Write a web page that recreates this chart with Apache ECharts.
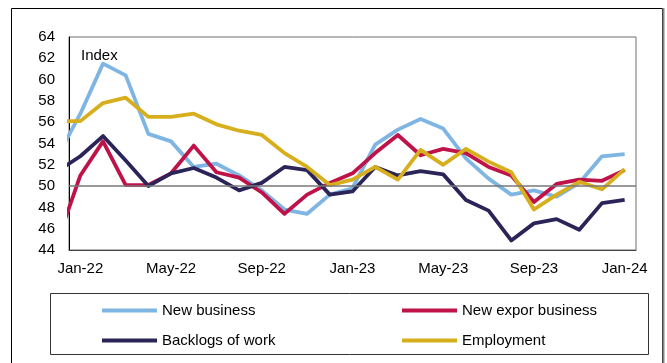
<!DOCTYPE html>
<html>
<head>
<meta charset="utf-8">
<script src="https://cdn.jsdelivr.net/npm/echarts@6/dist/echarts.min.js"></script>
<style>html,body{margin:0;padding:0;background:#fff}#c{width:667px;height:363px}</style>
</head>
<body>
<div id="c"></div>
<script>
// Months (first one, Dec-21, sits just left of the plot and is clipped)
const months = ['Dec-21','Jan-22','Feb-22','Mar-22','Apr-22','May-22','Jun-22','Jul-22','Aug-22','Sep-22','Oct-22','Nov-22','Dec-22','Jan-23','Feb-23','Mar-23','Apr-23','May-23','Jun-23','Jul-23','Aug-23','Sep-23','Oct-23','Nov-23','Dec-23','Jan-24'];
const xTickLabels = ['Jan-22','May-22','Sep-22','Jan-23','May-23','Sep-23','Jan-24'];
const yTicks = [44,46,48,50,52,54,56,58,60,62,64];

const newBusiness = [52.8, 56.8,61.5,60.4,54.9,54.2,51.8,52.1,51.0,49.6,47.8,47.4,49.2,49.8,53.9,55.3,56.3,55.4,52.6,50.7,49.2,49.6,49.0,50.3,52.8,53.0];
const newExport   = [44.9, 51.0,54.2,50.1,50.1,51.2,53.8,51.3,50.8,49.4,47.4,49.2,50.3,51.2,53.1,54.8,52.9,53.5,53.1,51.8,51.0,48.5,50.2,50.6,50.5,51.5];
const backlogs    = [51.4, 52.8,54.7,52.4,50.0,51.2,51.7,50.8,49.6,50.3,51.8,51.5,49.2,49.5,51.8,51.0,51.4,51.1,48.7,47.7,44.9,46.5,46.9,45.9,48.4,48.7];
const employment  = [56.1, 56.1,57.8,58.3,56.5,56.5,56.8,55.8,55.2,54.8,53.1,51.8,50.1,50.6,51.8,50.6,53.4,52.0,53.5,52.3,51.3,47.8,49.2,50.4,49.7,51.6];

const seriesNames = ['New business','New expor business','Backlogs of work','Employment'];
const colors = ['#7fb5e3','#bf1248','#2b2458','#d7ae1c'];

// x index: Jan-22 = 0, so Dec-21 = -1
const toXY = arr => arr.map((v,i) => [i-1, v]);
const labelIdx = xTickLabels.map(l => months.indexOf(l) - 1);

const chart = echarts.init(document.getElementById('c'));
const font = 'Liberation Sans, Arial, sans-serif';

const mkSeries = (name, data, color, extra) => Object.assign({
  name, type: 'line', data: toXY(data), symbol: 'none', clip: true,
  lineStyle: { color, width: 3.8, join: 'round' }, itemStyle: { color },
  emphasis: { disabled: true }
}, extra || {});

const legendCommon = {
  orient: 'vertical', top: 303, padding: 0,
  icon: 'rect', itemWidth: 55, itemHeight: 4, itemGap: 15,
  textStyle: { fontSize: 15, fontFamily: font, color: '#000', lineHeight: 15 }
};

chart.setOption({
  animation: false,
  grid: { left: 69, right: 31, top: 37, bottom: 113, show: true, borderColor: '#6e6e6e', borderWidth: 1 },
  xAxis: {
    type: 'value', min: -0.5, max: 24.5,
    axisLine: { show: true, onZero: false, lineStyle: { color: '#444', width: 1 } },
    axisTick: { show: false },
    splitLine: { show: false },
    axisLabel: {
      customValues: labelIdx, color: '#000', fontSize: 15, fontFamily: font, margin: 11,
      formatter: v => months[Math.round(v) + 1]
    }
  },
  yAxis: {
    type: 'value', min: yTicks[0], max: yTicks[yTicks.length-1], interval: 2,
    axisLine: { show: true, onZero: false, lineStyle: { color: '#000', width: 1 } },
    axisTick: { show: false },
    splitLine: { show: false },
    axisLabel: { color: '#000', fontSize: 15, fontFamily: font, margin: 14 }
  },
  legend: [
    Object.assign({ data: [seriesNames[0], seriesNames[2]], left: 102 }, legendCommon),
    Object.assign({ data: [seriesNames[1], seriesNames[3]], left: 402 }, legendCommon)
  ],
  graphic: [
    { type: 'rect', shape: { x: 11.5, y: 8.5, width: 651, height: 370 }, style: { fill: 'none', stroke: '#000', lineWidth: 1 }, silent: true, z: -10 },
    { type: 'line', shape: { x1: 663.5, y1: 8, x2: 663.5, y2: 363 }, style: { stroke: '#888', lineWidth: 2 }, silent: true },
    { type: 'rect', shape: { x: 50.5, y: 293.5, width: 598, height: 61 }, style: { fill: 'none', stroke: '#333', lineWidth: 1 }, silent: true },
    { type: 'text', left: 81, top: 48, style: { text: 'Index', fontSize: 15, fontFamily: font, fill: '#000' }, silent: true }
  ],
  series: [
    mkSeries(seriesNames[0], newBusiness, colors[0], {
      markLine: { silent: true, symbol: 'none', label: { show: false },
        lineStyle: { color: '#777', width: 1.5, type: 'solid' }, data: [{ yAxis: 50 }] }
    }),
    mkSeries(seriesNames[1], newExport, colors[1]),
    mkSeries(seriesNames[2], backlogs, colors[2]),
    mkSeries(seriesNames[3], employment, colors[3])
  ]
});
</script>
</body>
</html>
